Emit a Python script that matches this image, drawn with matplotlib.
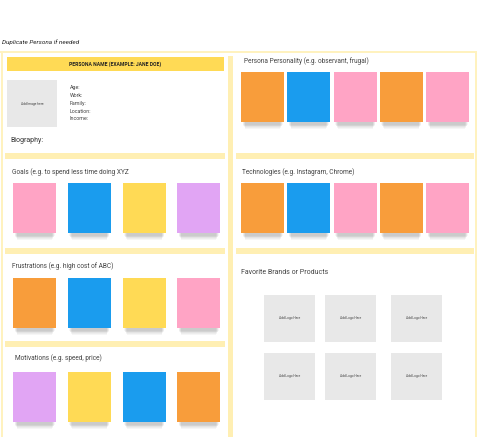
import matplotlib.pyplot as plt
from matplotlib.patches import Rectangle

plt.rcParams['font.family'] = ['Roboto', 'DejaVu Sans']

# sticky note colours
ORANGE = '#F89D3B'
BLUE = '#1A9CEE'
PINK = '#FFA4C5'
YELLOW = '#FFDA55'
PURPLE = '#E1A5F4'

# contents
page_note = 'Duplicate Persona if needed'
persona_name = 'PERSONA NAME (EXAMPLE: JANE DOE)'
image_text = 'Add Image here'
profile_fields = ['Age:', 'Work:', 'Family:', 'Location:', 'Income:']
biography_label = 'Biography:'

goals_title = 'Goals (e.g. to spend less time doing XYZ'
goals_colors = [PINK, BLUE, YELLOW, PURPLE]
frustrations_title = 'Frustrations (e.g. high cost of ABC)'
frustrations_colors = [ORANGE, BLUE, YELLOW, PINK]
motivations_title = 'Motivations (e.g. speed, price)'
motivations_colors = [PURPLE, YELLOW, BLUE, ORANGE]

personality_title = 'Persona Personality (e.g. observant, frugal)'
personality_colors = [ORANGE, BLUE, PINK, ORANGE, PINK]
technologies_title = 'Technologies (e.g. Instagram, Chrome)'
technologies_colors = [ORANGE, BLUE, PINK, ORANGE, PINK]
brands_title = 'Favorite Brands or Products'
brand_labels = ['Add Logo Here'] * 6

FRAME = '#FFF2BF'
BAR = '#FFEFB3'
GREY = '#E8E8E8'
TEXT = '#444444'

W, H = 480, 437
fig = plt.figure(figsize=(W / 100, H / 100), dpi=100)
ax = fig.add_axes([0, 0, 1, 1])
ax.set_xlim(0, W)
ax.set_ylim(H, 0)
ax.axis('off')


def box(x, y, w, h, color, z=1, **kw):
    ax.add_patch(Rectangle((x, y), w, h, facecolor=color, edgecolor='none', zorder=z, **kw))


def sticky(x, y, w, h, color):
    # soft blurred shadow under the note, built from stacked faint boxes
    for k in range(1, 7):
        box(x + 1 + k * 0.5, y + 2, w - 2 - k, h + k * 0.8, '#000000', z=2, alpha=0.035)
    box(x, y, w, h, color, z=3)


def sticky_row(colors, x0, step, y, w=43, h=50):
    for i, c in enumerate(colors):
        sticky(x0 + i * step, y, w, h, c)


def label(x, y, s, size=4.7, color=TEXT, **kw):
    ax.text(x, y, s, fontsize=size, color=color, va='center', ha='left', zorder=5, **kw)


# page note
label(2, 42, page_note, size=4.6, style='italic', color='#222222')

# outer frame
box(0, 50.5, 477, 2, FRAME)
box(1, 50.5, 2, H - 50, FRAME)
box(475, 50.5, 2, H - 50, FRAME)
# column divider
box(228, 56, 4.5, H - 56, BAR)

# header
box(7, 57, 217, 14, YELLOW)
ax.text(115, 64, persona_name, fontsize=3.6, fontweight='bold', color='#222222',
        ha='center', va='center', zorder=5)

# image placeholder and profile
box(7, 80, 50, 47, GREY)
ax.text(32, 103.5, image_text, fontsize=2.3, color='#444444', ha='center', va='center', zorder=5)
for i, f in enumerate(profile_fields):
    label(70, 88 + i * 7.7, f, size=3.8)
label(10, 141, biography_label, size=5, color='#333333')

# left column separators
for y in [153, 248, 341]:
    box(5, y, 220, 6, BAR)
# right column separators
for y in [153, 248]:
    box(236, y, 238, 6, BAR)

# left column sections
label(12, 172, goals_title)
sticky_row(goals_colors, 13, 54.8, 183)
label(12, 266, frustrations_title)
sticky_row(frustrations_colors, 13, 54.8, 278)
label(15, 358, motivations_title)
sticky_row(motivations_colors, 13, 54.8, 372)

# right column sections
label(244, 61, personality_title)
sticky_row(personality_colors, 241, 46.3, 72)
label(242, 172, technologies_title)
sticky_row(technologies_colors, 241, 46.3, 183)
label(241, 272, brands_title, size=5.0)

logo_x = [264, 325, 391]
logo_y = [295, 353]
for k, s in enumerate(brand_labels):
    x = logo_x[k % 3]
    y = logo_y[k // 3]
    box(x, y, 51, 47, GREY)
    ax.text(x + 25.5, y + 23.5, s, fontsize=2.3, color='#444444', ha='center', va='center', zorder=5)

fig.savefig('out.png', dpi=100)
